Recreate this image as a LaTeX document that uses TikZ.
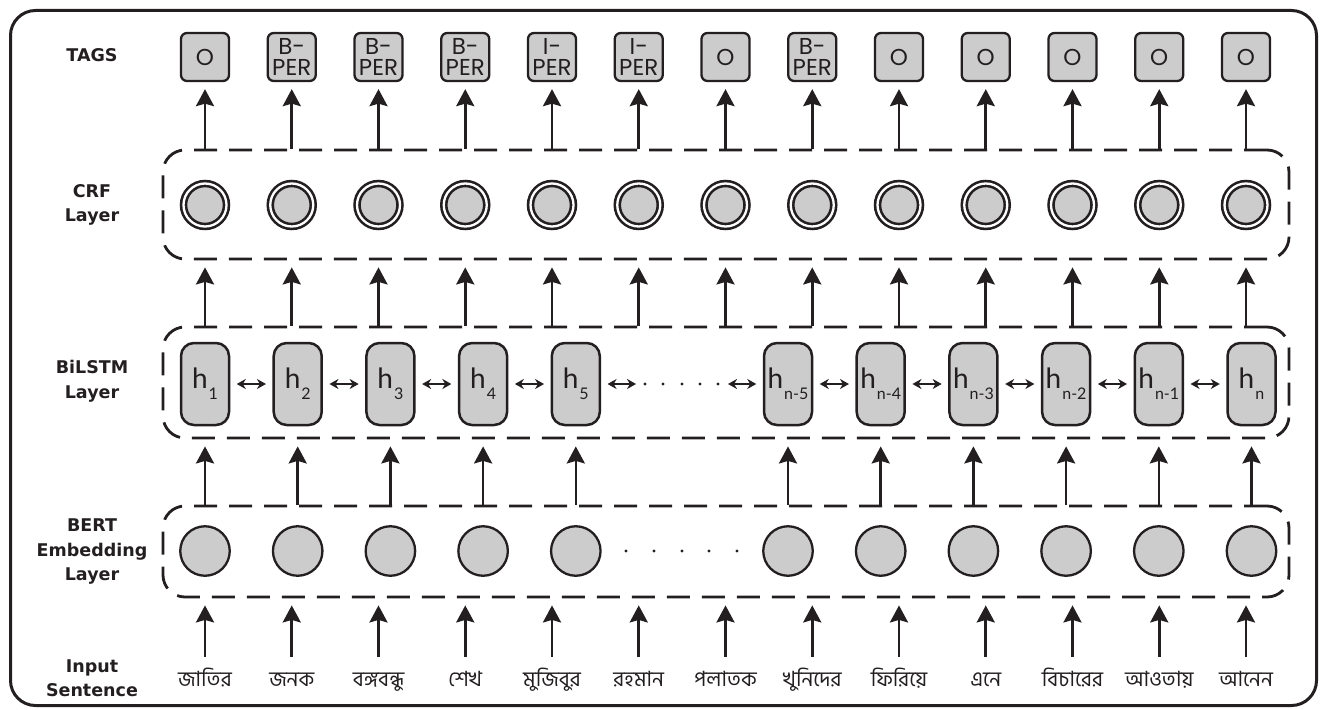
\documentclass[tikz,border=0pt]{standalone}
\usepackage{fontspec}
\setmainfont{DejaVu Sans}
\newfontfamily\bnfont[Script=Bengali]{Hind Siliguri}
\newfontfamily\tagfont{Poppins}
\newfontfamily\hfont{Lato}
\usetikzlibrary{arrows.meta}

\definecolor{ink}{HTML}{231F20}
\definecolor{cellgray}{HTML}{CCCCCC}

\tikzset{
  frame/.style={draw=ink, line width=3pt, rounded corners=25pt},
  layer/.style={draw=ink, line width=2.8pt, dash pattern=on 23pt off 12pt,
    rounded corners=22pt, minimum width=1126pt, inner sep=0pt},
  tagbox/.style={draw=ink, fill=cellgray, line width=2.3pt, rounded corners=6pt,
    minimum width=48pt, minimum height=48pt, inner sep=0pt, align=center,
    text=ink, font=\tagfont\fontsize{23}{21.5}\selectfont},
  crfcell/.style={circle, draw=ink, double=white, double distance=2.3pt,
    line width=2.6pt, fill=cellgray, minimum size=43pt, inner sep=0pt},
  embcell/.style={circle, draw=ink, fill=cellgray, line width=2.3pt,
    minimum size=49.5pt, inner sep=0pt},
  hcell/.style={draw=ink, fill=cellgray, line width=2.5pt, rounded corners=13pt,
    minimum width=48pt, minimum height=82pt, inner sep=0pt, text=ink,
    font=\hfont\fontsize{28}{28}\selectfont},
  up/.style={-{Stealth[length=17pt,width=18pt,inset=2.5pt]}, draw=ink, line width=2.6pt},
  link/.style={{Stealth[length=9pt,width=10pt]}-{Stealth[length=9pt,width=10pt]},
    draw=ink, line width=2.2pt},
  lbl/.style={font=\bfseries\fontsize{17.5}{24.5}\selectfont, align=center, text=ink},
  word/.style={font=\bnfont\fontsize{21}{21}\selectfont, text=ink, inner sep=0pt,
    text height=29pt, text depth=6pt, anchor=base}
}

\newcommand{\hlabel}[1]{h\kern1pt\raisebox{-11pt}{\fontsize{16}{16}\selectfont #1}}

\begin{document}
\begin{tikzpicture}[x=1pt, y=-1pt]
  \useasboundingbox (0,0) rectangle (1324,709);

  % outer frame
  \draw[frame] (10.5,10.5) rectangle (1316.5,705.5);

  % row labels
  \node[lbl] (lblTags) at (92,55) {TAGS};
  \node[lbl] (lblCrf) at (92,205) {CRF\\Layer};
  \node[lbl] (lblLstm) at (92,381) {BiLSTM\\Layer};
  \node[lbl] (lblBert) at (92,552) {BERT\\Embedding\\Layer};
  \node[lbl] (lblIn) at (92,678) {Input\\Sentence};

  % dashed layer containers
  \node[layer, minimum height=109pt] (crfbox) at (726,204.5) {};
  \node[layer, minimum height=111pt] (lstmbox) at (726,382.5) {};
  \node[layer, minimum height=91pt] (embbox) at (726,551.5) {};

  % tags, CRF cells and input words share the same columns
  \foreach \t [count=\i from 0] in {O,{B-\\PER},{B-\\PER},{B-\\PER},{I-\\PER},{I-\\PER},O,{B-\\PER},O,O,O,O,O} {
    \pgfmathsetmacro{\cx}{205+86.75*\i}
    \node[tagbox] (tag\i) at (\cx,57) {\t};
    \node[crfcell] (crf\i) at (\cx,205) {};
  }
  \foreach \w [count=\i from 0] in {জাতির,জনক,বঙ্গবন্ধু,শেখ,মুজিবুর,রহমান,পলাতক,খুনিদের,ফিরিয়ে,এনে,বিচারের,আওতায়,আনেন} {
    \pgfmathsetmacro{\cx}{205+86.75*\i}
    \node[word] (w\i) at (\cx,686) {\w};
  }

  % BiLSTM cells and embeddings
  \foreach \s [count=\k from 0] in {1,2,3,4,5} {
    \pgfmathsetmacro{\hx}{205+92.7*\k}
    \node[hcell] (h\k) at (\hx,384) {\hlabel{\s}};
    \node[embcell] (emb\k) at (\hx,551) {};
  }
  \foreach \s [count=\k from 5] in {n-5,n-4,n-3,n-2,n-1,n} {
    \pgfmathsetmacro{\hx}{788+92.7*(\k-5)}
    \node[hcell] (h\k) at (\hx,384) {\hlabel{\s}};
    \node[embcell] (emb\k) at (\hx,551) {};
  }

  % bidirectional links between hidden states
  \foreach \a/\b in {0/1,1/2,2/3,3/4,5/6,6/7,7/8,8/9,9/10} {
    \draw[link, shorten <=6.5pt, shorten >=6.5pt] (h\a.east) -- (h\b.west);
  }
  \coordinate (gapL) at (636,384);
  \coordinate (gapR) at (728,384);
  \draw[link, shorten <=6.5pt] (h4.east) -- (gapL);
  \draw[link, shorten >=6.5pt] (gapR) -- (h5.west);
  \foreach \dx in {645,663,682,700,718} \fill[ink] (\dx,384) circle (1.6pt);
  \foreach \dx in {626,654,682,709,737} \fill[ink] (\dx,551) circle (1.6pt);

  % upward connectors
  \foreach \i in {0,...,12} {
    \draw[up, shorten >=7pt] (crfbox.north -| tag\i) -- (tag\i.south);
    \draw[up, shorten >=7pt] (lstmbox.north -| crf\i) -- (crfbox.south -| crf\i);
    \draw[up, shorten >=7pt] (w\i.north) -- (embbox.south -| w\i);
  }
  \foreach \k in {0,...,10} {
    \draw[up, shorten >=7pt] (embbox.north -| emb\k) -- (lstmbox.south -| h\k);
  }
\end{tikzpicture}
\end{document}
